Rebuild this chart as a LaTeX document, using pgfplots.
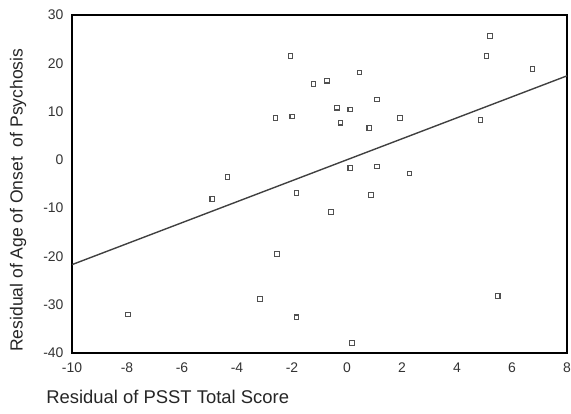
\documentclass[border=0pt]{standalone}
\usepackage{pgfplots}
\pgfplotsset{compat=1.18}
\usepackage{fontspec}
\setmainfont{Liberation Sans}
\definecolor{pts}{HTML}{505050}
\definecolor{fit}{HTML}{404040}
\begin{document}
\begin{tikzpicture}[x=1bp,y=1bp]
\useasboundingbox (-72bp,-61bp) rectangle (499bp,353bp);
\begin{axis}[
  at={(0,0)}, anchor=south west,
  scale only axis, width=495bp, height=338bp,
  xmin=-10, xmax=8, ymin=-40, ymax=30,
  xtick={-10,-8,...,8}, ytick={-40,-30,...,30},
  major tick length=0pt,
  axis line style={line width=1.6pt, black},
  tick label style={font=\fontsize{14}{16}\selectfont, text=black!80},
  /pgf/number format/assume math mode=true,
  xticklabel style={yshift=-6bp},
  yticklabel style={xshift=-5bp},
  xlabel={Residual of PSST Total Score},
  ylabel={Residual of Age of Onset\ \ of Psychosis},
  label style={text=black!85},
  xlabel style={font=\fontsize{18.5}{21}\selectfont, at={(axis description cs:-0.059,-0.13)}, anchor=west},
  ylabel style={font=\fontsize{17.6}{20}\selectfont, at={(axis description cs:-0.109,0.452)}, anchor=center},
  clip=false,
]
\addplot[only marks, mark=square*, mark size=2.3pt,
  mark options={draw=pts, fill=white, line width=1.1pt}] coordinates {
(-7.97,-32) (-4.9,-8.1) (-4.35,-3.5) (-3.16,-28.8) (-2.55,-19.5)
(-2.6,8.7) (-1.99,9.0) (-2.05,21.5) (-1.84,-6.9) (-1.84,-32.6)
(-1.22,15.7) (-0.72,16.4) (-0.59,-10.8) (-0.37,10.8) (-0.24,7.7)
(0.12,10.4) (0.12,-1.7) (0.45,18.1) (0.18,-37.9) (0.81,6.6)
(0.87,-7.3) (1.09,12.5) (1.09,-1.4) (1.93,8.7) (2.27,-2.8)
(4.85,8.3) (5.07,21.5) (5.2,25.7) (5.48,-28.2) (6.74,18.8)
};
\addplot[fit, line width=1.4pt] coordinates {(-10,-21.7) (8,17.4)};
\end{axis}
\end{tikzpicture}
\end{document}
